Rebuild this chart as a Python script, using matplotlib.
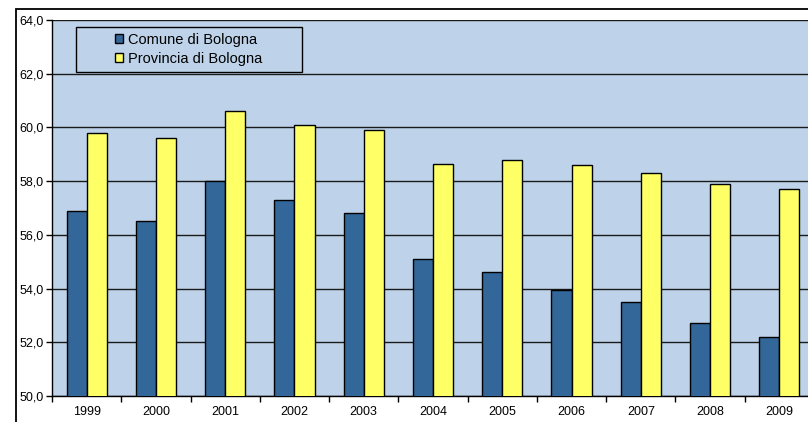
import matplotlib
matplotlib.use("Agg")
import matplotlib.pyplot as plt
import matplotlib.patches as patches
import numpy as np

years = ['1999', '2000', '2001', '2002', '2003', '2004', '2005', '2006', '2007', '2008', '2009']
comune = [56.9, 56.5, 58.0, 57.3, 56.8, 55.1, 54.6, 53.95, 53.5, 52.7, 52.2]
provincia = [59.8, 59.6, 60.6, 60.1, 59.9, 58.65, 58.8, 58.6, 58.3, 57.9, 57.7]
y_ticks = [50, 52, 54, 56, 58, 60, 62, 64]

plt.rcParams['font.family'] = ['Liberation Sans', 'DejaVu Sans']

bg = '#BED3EA'
blue = '#336699'
yellow = '#FFFF66'

fig = plt.figure(figsize=(8.08, 4.22), dpi=100)
W, H = 808.0, 422.0
ax = fig.add_axes([52 / W, 26 / H, 762 / W, 376 / H])
ax.set_facecolor(bg)

# outer chart border (left and top visible, rest cut off)
fig.add_artist(patches.Rectangle((16 / W, -0.2), 1.2, (H - 9) / H + 0.2,
                                 transform=fig.transFigure, fill=False,
                                 edgecolor='black', linewidth=1.3, clip_on=False))

x = np.arange(len(years))
w = 0.29
ax.bar(x - w / 2, comune, w, color=blue, edgecolor='black', linewidth=1.0,
       zorder=3, label='Comune di Bologna')
ax.bar(x + w / 2, provincia, w, color=yellow, edgecolor='black', linewidth=1.0,
       zorder=3, label='Provincia di Bologna')

ax.set_ylim(50, 64)
ax.set_xlim(-0.5, len(years) - 0.5)
ax.set_yticks(y_ticks)
ax.set_yticklabels([('%.1f' % v).replace('.', ',') for v in y_ticks], fontsize=9)
ax.yaxis.grid(True, color='#1a1a1a', linewidth=1.0, zorder=1)
ax.set_axisbelow(True)

ax.set_xticks(np.arange(-0.5, len(years)), labels=[])
ax.set_xticks(x, labels=years, minor=True, fontsize=9)
ax.tick_params(axis='x', which='minor', length=0, pad=7)
ax.tick_params(axis='x', which='major', length=4, width=1, direction='out')
ax.tick_params(axis='y', length=4, width=1, direction='out', pad=2)

for s in ['top', 'right']:
    ax.spines[s].set_visible(False)
ax.spines['left'].set_linewidth(1.0)
ax.spines['bottom'].set_linewidth(1.0)

# legend box
lx0, lx1 = (76 - 52) / 762, (302 - 52) / 762
ly0, ly1 = (396 - 72.3) / 376, (396 - 26.7) / 376
ax.add_patch(patches.Rectangle((lx0, ly0), lx1 - lx0, ly1 - ly0, transform=ax.transAxes,
                               facecolor=bg, edgecolor='black', linewidth=1.0, zorder=5))
leg = ax.legend(loc='center', bbox_to_anchor=((lx0 + lx1) / 2, (ly0 + ly1) / 2),
                frameon=False, fontsize=10.5, handlelength=0.55, handleheight=0.55,
                handletextpad=0.35, labelspacing=0.35, borderpad=0)
leg.set_zorder(6)

plt.savefig('out.png', dpi=100)
